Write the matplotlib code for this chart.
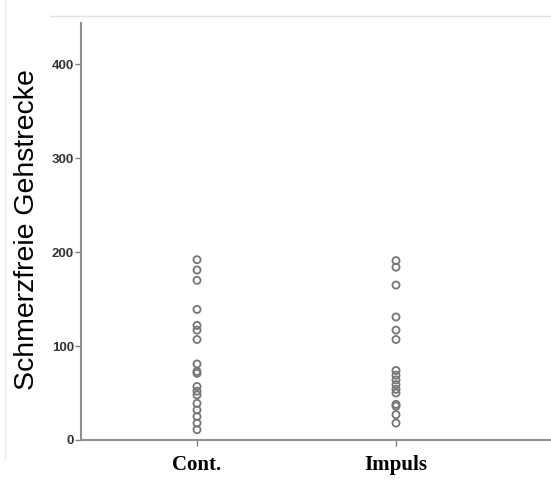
import numpy as np
import matplotlib.pyplot as plt

# Werte
gruppen = ['Cont.', 'Impuls']
cont = [192, 181, 170, 139, 122, 117, 107, 81, 73, 71, 57, 52, 48, 39, 32, 25, 18, 11]
impuls = [191, 184, 165, 131, 117, 107, 74, 69, 64, 59, 54, 50, 38, 36, 27, 18]
y_ticks = [0, 100, 200, 300, 400]

fig = plt.figure(figsize=(5.51, 4.8), dpi=100)
ax = fig.add_axes([81 / 551, 40 / 480, 1 - 81 / 551, (440 - 23) / 480])

for i, werte in enumerate([cont, impuls]):
    ax.scatter(np.full(len(werte), i + 1), werte, s=26, facecolors='none',
               edgecolors='#767676', linewidths=1.3, zorder=3)

ax.set_xlim(1 - 116 / 199, 2 + 155 / 199)
ax.set_ylim(0, 444)
ax.set_xticks([1, 2])
ax.set_xticklabels(gruppen, family='Liberation Serif', fontweight='bold', fontsize=15)
ax.set_yticks(y_ticks)
ax.set_yticklabels([str(t) for t in y_ticks], family='Liberation Sans',
                   fontweight='bold', fontsize=9.5, color='#333333')
ax.tick_params(axis='both', color='#808080', length=4, width=1)
ax.tick_params(axis='x', pad=7)
ax.tick_params(axis='y', pad=1)

for s in ['top', 'right']:
    ax.spines[s].set_visible(False)
for s in ['left', 'bottom']:
    ax.spines[s].set_color('#909090')
    ax.spines[s].set_linewidth(1.5)

ax.set_ylabel('Schmerzfreie Gehstrecke', family='Liberation Sans', fontsize=20.5,
              fontweight='medium', va='center')
ax.yaxis.set_label_coords(-54 / 470, (440 - 230) / 417)

# heller Rahmen des Screenshots
fig.add_artist(plt.Line2D([50 / 551, 1], [1 - 16 / 480, 1 - 16 / 480],
                          color='#e4e4e4', lw=1, transform=fig.transFigure))
fig.add_artist(plt.Line2D([5 / 551, 5 / 551], [1, 1 - 460 / 480],
                          color='#eeeeee', lw=1, transform=fig.transFigure))

fig.savefig('out.png', dpi=100)
